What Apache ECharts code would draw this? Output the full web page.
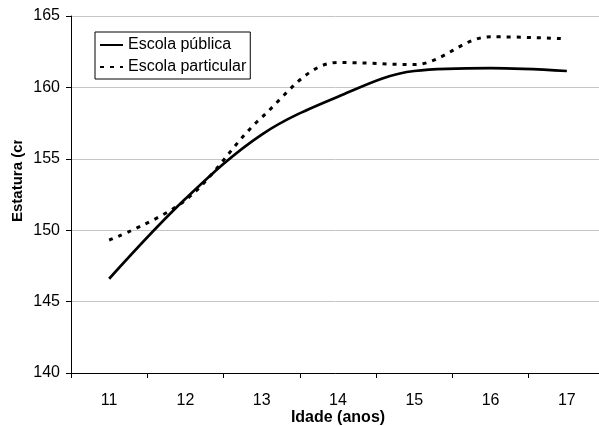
<!DOCTYPE html>
<html>
<head>
<meta charset="utf-8">
<script src="https://cdn.jsdelivr.net/npm/echarts@6/dist/echarts.min.js"></script>
<style>html,body{margin:0;padding:0;background:#fff;}#c{width:599px;height:426px;}</style>
</head>
<body>
<div id="c"></div>
<script>
var ages = ['11', '12', '13', '14', '15', '16', '17'];
var publica = [146.6, 152.2, 156.7, 159.35, 161.15, 161.35, 161.15];
var particular = [149.3, 152.1, 157.9, 161.75, 161.6, 163.55, 163.4];
var yTicks = [140, 145, 150, 155, 160, 165];
var seriesNames = ['Escola pública', 'Escola particular'];
var xTitle = 'Idade (anos)';
var yTitle = 'Estatura (cm)';

var font = 'Liberation Sans, Arial, sans-serif';
var chart = echarts.init(document.getElementById('c'), null, {renderer: 'canvas'});
chart.setOption({
  animation: false,
  backgroundColor: '#fff',
  grid: {left: 71, right: -6, top: 16, bottom: 53, containLabel: false, outerBoundsMode: 'none'},
  legend: {
    orient: 'vertical', left: 95, top: 32,
    padding: [5, 4, 4, 4], itemGap: 6, itemWidth: 23, itemHeight: 15,
    borderColor: '#000', borderWidth: 1,
    itemStyle: {opacity: 0},
    textStyle: {fontFamily: font, fontSize: 16, color: '#000'},
    data: seriesNames
  },
  xAxis: {
    type: 'category', data: ages, boundaryGap: true,
    name: xTitle, nameLocation: 'middle', nameGap: 37, nameMoveOverlap: false,
    nameTextStyle: {fontFamily: font, fontSize: 16, fontWeight: 'bold', color: '#000'},
    axisLine: {lineStyle: {color: '#000', width: 1}},
    axisTick: {show: true, length: 5, inside: false, lineStyle: {color: '#000'}},
    axisLabel: {fontFamily: font, fontSize: 16, color: '#000', margin: 20},
    splitLine: {show: false}
  },
  yAxis: {
    type: 'value', min: yTicks[0], max: yTicks[yTicks.length - 1], interval: 5,
    axisLine: {show: true, lineStyle: {color: '#000', width: 1}},
    axisTick: {show: true, length: 5, lineStyle: {color: '#000'}},
    axisLabel: {fontFamily: font, fontSize: 16, color: '#000', margin: 11},
    splitLine: {show: true, lineStyle: {color: '#c4c4c4', width: 1}}
  },
  graphic: [
    {type: 'text', x: 18, y: 222, rotation: Math.PI / 2, z: 10,
     style: {text: yTitle, font: 'bold 15px ' + font, fill: '#000', textAlign: 'left', textVerticalAlign: 'middle'}},
    {type: 'rect', z: 11, shape: {x: 0, y: 0, width: 30, height: 140}, style: {fill: '#fff'}}
  ],
  series: [
    {name: seriesNames[0], type: 'line', data: publica, smooth: 0.35, symbol: 'none',
     lineStyle: {color: '#000', width: 2.7, type: 'solid'}, itemStyle: {color: '#000'}},
    {name: seriesNames[1], type: 'line', data: particular, smooth: 0.35, symbol: 'none',
     lineStyle: {color: '#000', width: 3, type: [4, 6]}, itemStyle: {color: '#000'}}
  ]
});
</script>
</body>
</html>
